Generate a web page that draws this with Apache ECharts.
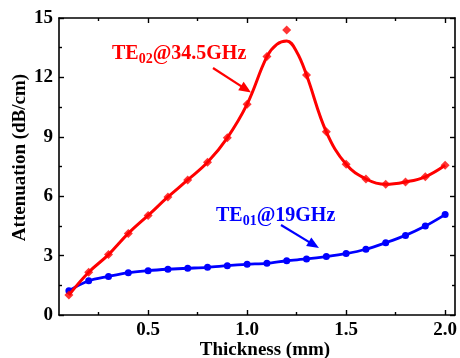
<!DOCTYPE html>
<html><head><meta charset="utf-8">
<script src="https://cdn.jsdelivr.net/npm/echarts@6/dist/echarts.min.js"></script>
<style>html,body{margin:0;padding:0;background:#fff}#c{width:460px;height:358px}</style>
</head><body><div id="c"></div>
<script>
// ---- data ----
const thickness = [0.1,0.2,0.3,0.4,0.5,0.6,0.7,0.8,0.9,1.0,1.1,1.2,1.3,1.4,1.5,1.6,1.7,1.8,1.9,2.0];
const te02Values = [1.01,2.16,3.05,4.12,5.03,5.96,6.82,7.71,8.95,10.65,13.05,14.39,12.12,9.25,7.61,6.87,6.60,6.72,6.98,7.56];
const te01Values = [1.23,1.73,1.95,2.14,2.24,2.31,2.36,2.41,2.49,2.56,2.61,2.74,2.83,2.95,3.10,3.32,3.65,4.02,4.49,5.07];
const te02FitX = [0.1,0.2,0.3,0.4,0.5,0.6,0.7,0.8,0.9,1.0,1.1,1.15,1.2,1.25,1.3,1.4,1.5,1.6,1.7,1.8,1.9,2.0];
const te02FitY = [1.01,2.16,3.05,4.12,5.03,5.96,6.82,7.71,8.95,10.65,13.05,13.67,13.84,13.30,12.12,9.25,7.61,6.87,6.60,6.72,6.98,7.56];
const xMajorTicks = [0.5,1.0,1.5,2.0];
const xMinorTicks = [0.25,0.75,1.25,1.75];
const xRange = [0.05, 2.05];
const yRange = [0, 15];
const yStep = 3;
const xTitle = 'Thickness (mm)';
const yTitle = 'Attenuation (dB/cm)';

const FONT_FAMILY = '"Liberation Serif","Times New Roman",serif';
const FS = 19;
const AFS = 20;
const SFS = 14;
const font = (s) => 'bold ' + s + 'px ' + FONT_FAMILY;

const chart = echarts.init(document.getElementById('c'), null, {renderer: 'canvas'});

function xAxisDef(pos, ticks, len, labels, line) {
  return {
    type: 'value', position: pos, min: xRange[0], max: xRange[1], gridIndex: 0,
    axisLine: {show: line, onZero: false, lineStyle: {color: '#000', width: 1.6}},
    axisTick: {show: true, inside: true, length: len, customValues: ticks, lineStyle: {color: '#000', width: 1.4}},
    axisLabel: labels ? {show: true, customValues: xMajorTicks, margin: 6,
      formatter: v => v.toFixed(1), color: '#000', fontFamily: FONT_FAMILY, fontWeight: 'bold', fontSize: FS}
      : {show: false},
    splitLine: {show: false}
  };
}
function yAxisDef(pos, labels) {
  return {
    type: 'value', position: pos, min: yRange[0], max: yRange[1], interval: yStep,
    axisLine: {show: true, onZero: false, lineStyle: {color: '#000', width: 1.6}},
    axisTick: {show: true, inside: true, length: 5, lineStyle: {color: '#000', width: 1.4}},
    minorTick: {show: true, splitNumber: 2, length: 3, lineStyle: {color: '#000', width: 1.4}},
    axisLabel: labels ? {show: true, margin: 6, color: '#000', fontFamily: FONT_FAMILY, fontWeight: 'bold', fontSize: FS} : {show: false},
    splitLine: {show: false}, minorSplitLine: {show: false}
  };
}

function arrow(x1, y1, x2, y2, color, headLen, headHalf, width) {
  const dx = x2 - x1, dy = y2 - y1, d = Math.hypot(dx, dy);
  const ux = dx / d, uy = dy / d, px = -uy, py = ux;
  const bx = x2 - ux * headLen, by = y2 - uy * headLen;
  return [
    {type: 'line', shape: {x1, y1, x2: bx + ux * 2, y2: by + uy * 2}, style: {stroke: color, lineWidth: width}, z: 20},
    {type: 'polygon', shape: {points: [[x2, y2], [bx + px * headHalf, by + py * headHalf], [bx - px * headHalf, by - py * headHalf]]},
      style: {fill: color}, z: 20}
  ];
}

const mctx = document.createElement('canvas').getContext('2d');
function tw(t, s) { mctx.font = font(s); return mctx.measureText(t).width; }
function subLabel(x, yTop, a, sub, b, color) {
  const w1 = tw(a, AFS), w2 = tw(sub, SFS);
  return [
    {type: 'text', x: x, y: yTop, style: {text: a, font: font(AFS), fill: color, verticalAlign: 'top'}, z: 20},
    {type: 'text', x: x + w1, y: yTop + 8, style: {text: sub, font: font(SFS), fill: color, verticalAlign: 'top'}, z: 20},
    {type: 'text', x: x + w1 + w2, y: yTop, style: {text: b, font: font(AFS), fill: color, verticalAlign: 'top'}, z: 20}
  ];
}

const graphics = [].concat(
  subLabel(112, 44, 'TE', '02', '@34.5GHz', '#ff0000'),
  arrow(213, 68, 251, 92.5, '#ff0000', 12, 5, 2.2),
  subLabel(216, 206, 'TE', '01', '@19GHz', '#0000ff'),
  arrow(281, 225, 319, 248, '#0000ff', 12, 5, 2.2),
  [
    {type: 'text', x: 265, y: 350, style: {text: xTitle, font: font(FS), fill: '#000', align: 'center', verticalAlign: 'middle'}},
    {type: 'text', x: 20, y: 157.5, rotation: Math.PI / 2, style: {text: yTitle, font: font(FS), fill: '#000', align: 'center', verticalAlign: 'middle'}}
  ]
);

const option = {
  backgroundColor: '#fff',
  animation: false,
  grid: {left: 59, right: 4, top: 18, bottom: 43, containLabel: false},
  xAxis: [
    xAxisDef('bottom', xMajorTicks, 5, true, true),
    xAxisDef('bottom', xMinorTicks, 3, false, false),
    xAxisDef('top', xMajorTicks, 5, false, true),
    xAxisDef('top', xMinorTicks, 3, false, false)
  ],
  yAxis: [yAxisDef('left', true), yAxisDef('right', false)],
  series: [
    {type: 'line', name: 'TE01', xAxisIndex: 0, yAxisIndex: 0, smooth: 0.3,
      data: thickness.map((x, i) => [x, te01Values[i]]),
      symbol: 'circle', symbolSize: 7, itemStyle: {color: '#0000ff'},
      lineStyle: {color: '#0000ff', width: 2.8}, z: 3},
    {type: 'line', name: 'TE02 fit', xAxisIndex: 0, yAxisIndex: 0, smooth: 0.4,
      data: te02FitX.map((x, i) => [x, te02FitY[i]]),
      showSymbol: false, symbol: 'none', lineStyle: {color: '#ff0000', width: 3}, z: 4},
    {type: 'scatter', name: 'TE02', xAxisIndex: 0, yAxisIndex: 0,
      data: thickness.map((x, i) => [x, te02Values[i]]),
      symbol: 'diamond', symbolSize: 9, itemStyle: {color: '#ff0000'}, z: 5}
  ],
  graphic: graphics
};
chart.setOption(option);
</script>
</body></html>
